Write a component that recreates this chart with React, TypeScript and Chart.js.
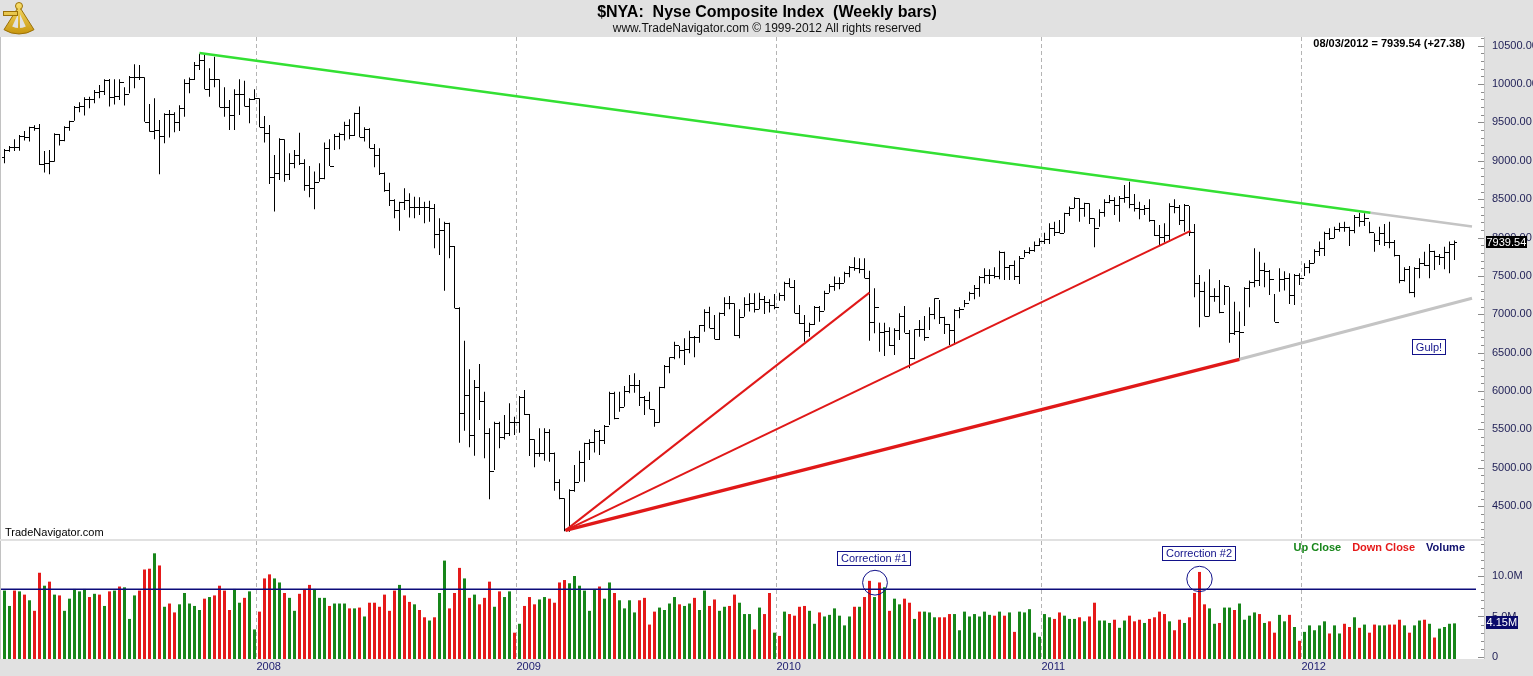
import React, { useEffect, useRef } from 'react';
import { Chart, registerables } from 'chart.js';

Chart.register(...registerables);

const FONT = '"Liberation Sans", Arial, Helvetica, sans-serif';
Chart.defaults.font.family = FONT;

// ---------------- data (weekly bars, Jan 2007 .. 08/03/2012) ----------------
const highs = [
  9154, 9193, 9280, 9337, 9389, 9445, 9463, 9480, 9128, 9141,
  9358, 9350, 9450, 9523, 9714, 9762, 9827, 9836, 9923, 9988,
  10062, 10066, 10062, 10062, 9958, 10105, 10257, 10249, 10088, 9740,
  9814, 9532, 9619, 9662, 9632, 9723, 10062, 10084, 10288, 10395,
  10379, 10205, 10357, 10062, 9958, 9793, 9931, 10062, 10044, 9814,
  9931, 9814, 9584, 9467, 9076, 9293, 9280, 9098, 9141, 9367,
  9019, 8933, 8859, 8967, 9237, 9280, 9350, 9367, 9510, 9541,
  9627, 9706, 9436, 9423, 9219, 9163, 8846, 8715, 8498, 8468,
  8642, 8576, 8533, 8524, 8468, 8481, 8437, 8251, 8207, 8194,
  7890, 7091, 6657, 6283, 6144, 6353, 5992, 5515, 5601, 5601,
  5688, 5840, 5666, 5936, 6014, 5701, 5371, 5514, 5514, 5501,
  5198, 4850, 4602, 4720, 5037, 5223, 5328, 5371, 5501, 5493,
  5558, 5992, 5992, 5992, 6066, 6209, 6231, 6144, 5936, 5992,
  5762, 6057, 6340, 6440, 6644, 6587, 6687, 6787, 6717, 6861,
  7065, 7100, 6991, 7022, 7221, 7239, 7143, 7065, 7221, 7273,
  7273, 7282, 7239, 7195, 7265, 7282, 7425, 7469, 7447, 7121,
  6991, 6891, 7109, 7109, 7308, 7395, 7491, 7482, 7556, 7630,
  7742, 7730, 7730, 7569, 7339, 6891, 6891, 6830, 6817, 7013,
  7109, 6796, 6804, 6926, 6978, 7091, 7208, 7187, 6969, 6874,
  7065, 7091, 7187, 7295, 7382, 7499, 7599, 7586, 7612, 7829,
  7816, 7643, 7700, 7760, 7838, 7873, 7947, 7990, 8064, 8186,
  8207, 8229, 8324, 8403, 8524, 8511, 8455, 8446, 8251, 8368,
  8498, 8555, 8524, 8542, 8685, 8728, 8568, 8468, 8425, 8498,
  8229, 8164, 8186, 8446, 8498, 8425, 8437, 8411, 8177, 7512,
  7425, 7586, 7339, 7447, 7382, 7352, 7165, 7035, 7352, 7439,
  7860, 7816, 7673, 7577, 7265, 7599, 7560, 7534, 7525, 7534,
  7664, 7708, 7847, 7947, 8077, 8120, 8142, 8194, 8207, 8142,
  8294, 8324, 8316, 8207, 8055, 8142, 8177, 8207, 7968, 7773,
  7612, 7630, 7612, 7730, 7816, 7916, 7829, 7786, 7881, 7947,
  7960,
];

const lows = [
  8967, 9119, 9128, 9132, 9263, 9250, 9393, 8946, 8846, 8824,
  8989, 9198, 9254, 9393, 9523, 9632, 9589, 9684, 9749, 9814,
  9858, 9706, 9732, 9793, 9719, 9879, 9945, 10053, 9510, 9380,
  9280, 8824, 9228, 9302, 9371, 9389, 9575, 9879, 10053, 10183,
  9932, 9836, 9958, 9697, 9575, 9402, 9402, 9597, 9706, 9489,
  9793, 9436, 9237, 8698, 8338, 8750, 8728, 8750, 8902, 8946,
  8611, 8524, 8368, 8728, 8759, 8933, 9141, 9150, 9263, 9280,
  9323, 9306, 9250, 9163, 8915, 8815, 8598, 8411, 8251, 8090,
  8359, 8260, 8251, 8294, 8186, 8207, 7860, 7773, 7308, 7730,
  7078, 5328, 5484, 5267, 5158, 5623, 5124, 4590, 4972, 5254,
  5370, 5415, 5428, 5458, 5688, 5154, 5006, 5145, 5093, 5080,
  4702, 4589, 4175, 4168, 4689, 4820, 4820, 5102, 5198, 5167,
  5311, 5558, 5632, 5732, 5797, 5970, 5979, 5806, 5688, 5762,
  5536, 5588, 6036, 6231, 6414, 6427, 6340, 6492, 6440, 6631,
  6774, 6817, 6674, 6665, 6978, 7065, 6717, 6687, 6969, 7035,
  7022, 7065, 7004, 7022, 7065, 7178, 7178, 7352, 7013, 6874,
  6644, 6709, 6861, 6904, 7048, 7282, 7308, 7326, 7412, 7482,
  7569, 7534, 7469, 6657, 6752, 6513, 6457, 6587, 6470, 6666,
  6761, 6296, 6414, 6709, 6657, 6796, 6935, 6874, 6744, 6600,
  6600, 6948, 7091, 7178, 7195, 7230, 7404, 7395, 7469, 7456,
  7447, 7447, 7447, 7395, 7742, 7786, 7816, 7890, 7916, 7916,
  8021, 8055, 8064, 8281, 8381, 8207, 8272, 8177, 7873, 8142,
  8272, 8446, 8294, 8207, 8455, 8381, 8338, 8238, 8294, 8207,
  8021, 7903, 7934, 7947, 8316, 8164, 8077, 8021, 7221, 6830,
  6970, 6970, 7165, 7013, 7121, 6631, 6731, 6410, 6848, 7091,
  7352, 7369, 7352, 7252, 6904, 7295, 7310, 7134, 7122, 7382,
  7499, 7534, 7664, 7760, 7760, 7969, 7990, 8077, 8077, 7890,
  8055, 8142, 8151, 8055, 7816, 7903, 7890, 7860, 7752, 7404,
  7426, 7273, 7221, 7469, 7630, 7469, 7578, 7643, 7586, 7534,
  7708,
];

const opens = [
  9050, 9141, 9185, 9185, 9324, 9315, 9445, 9432, 8959, 8967,
  8994, 9345, 9271, 9445, 9523, 9706, 9714, 9801, 9801, 9901,
  9910, 10053, 9836, 9845, 10031, 9866, 10088, 10088, 10088, 9510,
  9389, 9400, 9324, 9606, 9606, 9502, 9684, 10010, 10062, 10249,
  10314, 9932, 10062, 10062, 9706, 9706, 9597, 9871, 9871, 9714,
  9806, 9823, 9436, 9358, 8794, 8837, 9280, 8828, 8976, 9076,
  8976, 8685, 8642, 8728, 8772, 9163, 8933, 9323, 9350, 9467,
  9337, 9619, 9315, 9410, 9163, 9076, 8837, 8620, 8490, 8359,
  8468, 8490, 8394, 8394, 8403, 8394, 8381, 8042, 8099, 8194,
  7890, 7078, 5710, 5949, 5428, 6057, 5875, 5458, 4963, 5588,
  5406, 5450, 5601, 5601, 5918, 5701, 5371, 5198, 5198, 5471,
  5198, 4820, 4602, 4199, 4711, 4820, 5080, 5319, 5341, 5484,
  5362, 5545, 5979, 5645, 5797, 6005, 6079, 6079, 5927, 5884,
  5762, 5601, 6057, 6327, 6440, 6600, 6535, 6544, 6700, 6700,
  6861, 7035, 6817, 6674, 7022, 7143, 7143, 6730, 6961, 7135,
  7143, 7065, 7195, 7165, 7121, 7091, 7252, 7412, 7352, 7022,
  6883, 6787, 6874, 7100, 7048, 7282, 7369, 7404, 7404, 7543,
  7612, 7599, 7586, 7469, 6904, 7100, 6774, 6787, 6600, 6796,
  6978, 6761, 6427, 6804, 6804, 6709, 7004, 7208, 6969, 6874,
  6796, 7056, 7065, 7152, 7282, 7339, 7491, 7512, 7512, 7499,
  7816, 7621, 7643, 7499, 7730, 7816, 7838, 7903, 7960, 7977,
  8120, 8077, 8060, 8316, 8381, 8511, 8381, 8446, 8251, 8120,
  8338, 8468, 8490, 8425, 8511, 8533, 8437, 8381, 8368, 8381,
  8229, 8034, 8012, 8034, 8411, 8394, 8229, 8425, 8077, 7412,
  7308, 6978, 7239, 7239, 7035, 7369, 6761, 6787, 6774, 7339,
  7425, 7447, 7577, 7569, 7456, 6904, 7456, 7475, 7252, 7512,
  7469, 7621, 7673, 7829, 7860, 8064, 7990, 8107, 8142, 8142,
  8099, 8272, 8221, 8251, 8077, 7968, 8055, 7947, 7947, 7773,
  7447, 7586, 7295, 7599, 7664, 7643, 7829, 7760, 7752, 7816,
  7912,
];

const closes = [
  9141, 9185, 9185, 9324, 9315, 9445, 9432, 8959, 8967, 8994,
  9345, 9271, 9445, 9523, 9706, 9714, 9801, 9801, 9901, 9910,
  10053, 9836, 9845, 10031, 9866, 10088, 10088, 10088, 9510, 9389,
  9400, 9324, 9606, 9606, 9502, 9684, 10010, 10062, 10249, 10314,
  9932, 10062, 10062, 9706, 9706, 9597, 9871, 9871, 9714, 9806,
  9823, 9436, 9358, 8794, 8837, 9280, 8828, 8976, 9076, 8976,
  8685, 8642, 8728, 8772, 9163, 8933, 9323, 9350, 9467, 9337,
  9619, 9315, 9410, 9163, 9076, 8837, 8620, 8490, 8359, 8468,
  8490, 8394, 8394, 8403, 8394, 8381, 8042, 8099, 8194, 7890,
  7078, 5710, 5949, 5428, 6057, 5875, 5458, 4963, 5588, 5406,
  5450, 5601, 5601, 5918, 5701, 5371, 5198, 5198, 5471, 5198,
  4820, 4602, 4199, 4711, 4820, 5080, 5319, 5341, 5484, 5362,
  5545, 5979, 5645, 5797, 6005, 6079, 6079, 5927, 5884, 5762,
  5601, 6057, 6327, 6440, 6600, 6535, 6544, 6700, 6700, 6861,
  7035, 6817, 6674, 7022, 7143, 7143, 6730, 6961, 7135, 7143,
  7065, 7195, 7165, 7121, 7091, 7252, 7412, 7352, 7022, 6883,
  6787, 6874, 7100, 7048, 7282, 7369, 7404, 7404, 7543, 7612,
  7599, 7586, 7469, 6904, 7100, 6774, 6787, 6600, 6796, 6978,
  6761, 6427, 6804, 6804, 6709, 7004, 7208, 6969, 6874, 6796,
  7056, 7065, 7152, 7282, 7339, 7491, 7512, 7512, 7499, 7816,
  7621, 7643, 7499, 7730, 7816, 7838, 7903, 7960, 7977, 8120,
  8077, 8060, 8316, 8381, 8511, 8381, 8446, 8251, 8120, 8338,
  8468, 8490, 8425, 8511, 8533, 8437, 8381, 8368, 8381, 8229,
  8034, 8012, 8034, 8411, 8394, 8229, 8425, 8077, 7412, 7308,
  6978, 7239, 7239, 7035, 7369, 6761, 6787, 6774, 7339, 7425,
  7447, 7577, 7569, 7456, 6904, 7456, 7475, 7252, 7512, 7469,
  7621, 7673, 7829, 7860, 8064, 7990, 8107, 8142, 8142, 8099,
  8272, 8221, 8251, 8077, 7968, 8055, 7947, 7947, 7773, 7447,
  7586, 7295, 7599, 7664, 7643, 7829, 7760, 7752, 7816, 7912.16,
  7939.54,
];

// weekly volume, millions
const volumes = [
  8.2, 6.3, 8.2, 8.1, 7.7, 7.0, 5.7, 10.4, 8.8, 9.3,
  7.7, 7.6, 5.7, 7.2, 8.4, 8.1, 8.4, 7.4, 7.8, 7.7,
  6.3, 8.1, 8.2, 8.7, 8.6, 4.7, 7.6, 8.2, 10.8, 10.9,
  12.8, 11.3, 6.2, 6.6, 5.5, 6.5, 7.9, 6.6, 6.3, 5.8,
  7.2, 7.4, 7.6, 8.8, 8.2, 5.8, 8.4, 6.7, 7.3, 8.1,
  3.4, 5.6, 9.7, 10.2, 9.7, 9.2, 7.9, 7.3, 5.7, 7.8,
  8.4, 8.9, 8.4, 7.3, 7.3, 6.3, 6.6, 6.6, 6.6, 6.0,
  6.0, 6.1, 5.0, 6.7, 6.7, 6.2, 7.7, 5.7, 8.2, 8.9,
  7.6, 6.8, 6.5, 5.8, 4.9, 4.5, 4.9, 7.9, 11.9, 6.0,
  7.9, 11.0, 9.7, 7.3, 7.7, 6.5, 7.3, 9.3, 6.2, 8.1,
  7.4, 8.1, 3.0, 4.1, 6.3, 7.4, 6.5, 7.1, 7.4, 7.2,
  6.7, 9.2, 9.5, 9.1, 10.0, 8.8, 8.2, 5.7, 8.4, 8.7,
  7.2, 9.2, 7.9, 7.0, 6.0, 7.0, 5.5, 7.0, 7.3, 4.0,
  5.6, 6.1, 5.8, 6.6, 7.4, 6.5, 6.3, 6.6, 7.3, 5.8,
  8.2, 6.3, 7.1, 5.7, 6.2, 6.3, 7.7, 6.7, 5.3, 5.3,
  3.4, 6.1, 5.3, 7.9, 3.0, 2.6, 5.6, 5.3, 5.1, 6.2,
  6.3, 5.7, 4.1, 5.5, 5.0, 5.2, 6.0, 5.1, 3.9, 5.0,
  6.2, 6.2, 7.4, 9.4, 7.4, 9.2, 8.6, 5.7, 7.2, 6.5,
  7.2, 6.7, 4.7, 5.6, 5.6, 5.5, 4.9, 4.9, 4.9, 5.3,
  5.3, 3.3, 5.6, 5.0, 5.3, 5.0, 5.6, 5.2, 5.1, 5.6,
  5.1, 5.5, 3.1, 5.6, 5.5, 5.9, 3.0, 2.5, 5.3, 4.9,
  4.7, 5.5, 5.1, 4.7, 4.7, 4.9, 4.4, 5.0, 6.7, 4.5,
  4.5, 4.2, 4.6, 3.6, 4.5, 5.1, 4.4, 4.6, 4.2, 4.7,
  4.9, 5.6, 5.3, 4.4, 3.3, 4.6, 4.2, 4.9, 7.9, 10.5,
  6.5, 6.0, 4.1, 4.2, 6.1, 6.1, 5.8, 6.6, 4.6, 5.1,
  5.5, 5.3, 4.2, 4.4, 3.0, 5.2, 4.4, 5.2, 3.7, 2.0,
  3.1, 3.9, 3.3, 3.9, 4.4, 2.9, 3.9, 2.9, 4.1, 3.7,
  4.9, 3.6, 4.0, 3.0, 4.0, 3.9, 3.9, 4.0, 4.0, 4.6,
  3.9, 3.0, 3.9, 4.5, 4.6, 4.1, 2.4, 3.5, 3.7, 4.1,
  4.15,
];

// G = up close week, R = down close week
const volumeDirections =
  'GGRGRGRRGR' + 'GRGGGGGRGR' + 'GRGRGGGRRR' + 'GRGRRGGGGG' + 'RGRRRRGGRG' +
  'GRRRGGRGGR' + 'RRGGGRGGGR' + 'GRGRRRRRRG' + 'RRGRRGRGGR' + 'RRGRGRRRGR' +
  'GGRGRRRGGR' + 'RRRGGGGGGR' + 'GGRGGGGRRR' + 'RGGGGRGGRG' + 'GRRGGRRGGG' +
  'RGRRGRGRRR' + 'RGGRGGGGGG' + 'RGRRGRGRGG' + 'RRGRGGGRRR' + 'GGGGGGGGRG' +
  'RGRGGGGGGG' + 'RRGGGRGRRG' + 'GGRGGRRRGR' + 'RRRGRRGRRR' + 'RGGRGGRGGG' +
  'GRGRRGGRGR' + 'GGGGGRGGRR' + 'GRGRRGGRRR' + 'GRGGRGRGGGG';

const priceTicks = [4500, 5000, 5500, 6000, 6500, 7000, 7500, 8000, 8500, 9000, 9500, 10000, 10500];
const volumeTicks = [0, 5, 10];
const yearLabels = ['2008', '2009', '2010', '2011', '2012'];
const yearGridIndex = [50.4, 102.4, 154.4, 207.4, 259.4];

// trend lines (week index, price)
const greenTrend = [{ x: 39, y: 10405 }, { x: 273.2, y: 8324 }];
const greenTrendExt = [{ x: 273.2, y: 8324 }, { x: 293.5, y: 8144 }];
const redFan1 = [{ x: 112.2, y: 4185 }, { x: 173, y: 7282 }];
const redFan2 = [{ x: 112.2, y: 4185 }, { x: 237.2, y: 8086 }];
const redFan3 = [{ x: 112.2, y: 4185 }, { x: 247, y: 6414 }];
const grayLower = [{ x: 247, y: 6414 }, { x: 293.5, y: 7209 }];
const volumeAverage = [{ x: -0.7, y: 8.36 }, { x: 294.3, y: 8.36 }];

const gulpNote = { text: 'Gulp!', x: 284.9, y: 6574 };
const corrections = [
  { text: 'Correction #1', bx: 173.9, by: 12.16, cx: 174.1, cy: 9.17, r: 12.4 },
  { text: 'Correction #2', bx: 238.9, by: 12.78, cx: 239.0, cy: 9.63, r: 12.7 },
];
const lastDateText = '08/03/2012 = 7939.54 (+27.38)';

// ---------------- layout / style constants ----------------
const X_MIN = -0.7;
const X_MAX = 296.1;
const P_MIN = 4072.5;
const P_MAX = 10613;
const V_MIN = -0.25;
const V_MAX = 14.32;

const PANEL_BG = '#e1e1e1';
const NAVY = '#12128a';
const AXIS_TEXT = '#1e1e55';
const GRID = '#b4b4b4';
const VOL_GREEN = '#17861a';
const VOL_RED = '#e51a1a';
const TREND_GREEN = '#33e033';
const TREND_RED = '#e01818';
const TREND_GRAY = '#c4c4c4';

function drawNoteBox(ctx: CanvasRenderingContext2D, text: string, cx: number, cy: number, h: number) {
  ctx.font = `11px ${FONT}`;
  const w = Math.round(ctx.measureText(text).width + 8);
  const x0 = Math.round(cx - w / 2);
  const y0 = Math.round(cy - h / 2);
  ctx.fillStyle = '#ffffff';
  ctx.fillRect(x0, y0, w, h);
  ctx.strokeStyle = NAVY;
  ctx.lineWidth = 1;
  ctx.strokeRect(x0 + 0.5, y0 + 0.5, w - 1, h - 1);
  ctx.fillStyle = NAVY;
  ctx.textAlign = 'center';
  ctx.textBaseline = 'middle';
  ctx.fillText(text, x0 + w / 2, y0 + h / 2 + 0.5);
}

function drawPanelBackground(chart: any) {
  const { ctx, chartArea: a, width, height } = chart;
  ctx.save();
  ctx.fillStyle = PANEL_BG;
  ctx.fillRect(0, 0, width, height);
  ctx.fillStyle = '#ffffff';
  ctx.fillRect(a.left, a.top, a.right - a.left, a.bottom - a.top);
  ctx.restore();
}

function drawAxisMarks(chart: any, scale: any, from: number, to: number, step: number, majorEvery: number) {
  const { ctx, chartArea: a } = chart;
  ctx.save();
  ctx.fillStyle = '#c2c2c2';
  ctx.fillRect(a.left - 1, a.top, 1, a.bottom - a.top);
  ctx.fillRect(a.right - 1, a.top, 1, a.bottom - a.top);
  ctx.fillStyle = '#8c8c8c';
  for (let v = from; v <= to + 1e-9; v += step) {
    const y = Math.round(scale.getPixelForValue(v));
    if (y < a.top || y > a.bottom) continue;
    const major = Math.abs(v / majorEvery - Math.round(v / majorEvery)) < 1e-6;
    const len = major ? 6 : 3;
    ctx.fillRect(a.right - 1 - len, y, len, 1);
  }
  ctx.restore();
}

const pricePlugin = {
  id: 'priceDecor',
  beforeDraw(chart: any) {
    drawPanelBackground(chart);
  },
  afterDatasetDraw(chart: any, args: any) {
    if (args.index !== 0) return;
    const { ctx } = chart;
    const xs = chart.scales.x;
    const ys = chart.scales.y;
    ctx.save();
    ctx.fillStyle = '#000000';
    for (let i = 0; i < closes.length; i++) {
      const px = Math.floor(xs.getPixelForValue(i));
      const yo = Math.round(ys.getPixelForValue(opens[i]));
      const yc = Math.round(ys.getPixelForValue(closes[i]));
      ctx.fillRect(px - 2, yo, 2, 1);
      ctx.fillRect(px + 1, yc, 2, 1);
    }
    ctx.restore();
  },
  afterDatasetsDraw(chart: any) {
    const { ctx, chartArea: a } = chart;
    const xs = chart.scales.x;
    const ys = chart.scales.y;
    drawAxisMarks(chart, ys, 4100, 10600, 100, 500);
    ctx.save();
    // header info line
    ctx.font = `bold 11px ${FONT}`;
    ctx.fillStyle = '#000000';
    ctx.textAlign = 'right';
    ctx.textBaseline = 'middle';
    ctx.fillText(lastDateText, a.right - 20, a.top + 6.5);
    // watermark
    ctx.font = `11px ${FONT}`;
    ctx.textAlign = 'left';
    ctx.fillText('TradeNavigator.com', a.left + 4, a.bottom - 6);
    // Gulp! note
    drawNoteBox(ctx, gulpNote.text, xs.getPixelForValue(gulpNote.x), ys.getPixelForValue(gulpNote.y), 16);
    // last value box on axis
    const last = closes[closes.length - 1];
    const yl = Math.round(ys.getPixelForValue(last));
    ctx.font = `11px ${FONT}`;
    const txt = last.toFixed(2);
    const w = Math.ceil(ctx.measureText(txt).width) + 1;
    ctx.fillStyle = '#000000';
    ctx.fillRect(a.right + 1, yl - 6, w, 12);
    ctx.fillStyle = '#ffffff';
    ctx.textAlign = 'left';
    ctx.textBaseline = 'middle';
    ctx.fillText(txt, a.right + 1.5, yl + 0.5);
    ctx.restore();
  },
  afterDraw(chart: any) {
    const { ctx } = chart;
    ctx.save();
    // small golden sextant logo
    const g = ctx.createLinearGradient(0, 4, 0, 34);
    g.addColorStop(0, '#f7dd6a');
    g.addColorStop(1, '#c8960e');
    ctx.fillStyle = g;
    ctx.strokeStyle = '#9a7008';
    ctx.lineWidth = 1;
    ctx.beginPath();
    ctx.moveTo(19, 6);
    ctx.arc(19, 6, 28, Math.PI * 0.32, Math.PI * 0.68);
    ctx.closePath();
    ctx.fill();
    ctx.stroke();
    ctx.fillStyle = '#e1e1e1';
    ctx.beginPath();
    ctx.moveTo(19, 12);
    ctx.arc(19, 12, 16, Math.PI * 0.36, Math.PI * 0.64);
    ctx.closePath();
    ctx.fill();
    ctx.fillStyle = g;
    ctx.fillRect(3, 11, 15, 5);
    ctx.strokeRect(3.5, 11.5, 14, 4);
    ctx.beginPath();
    ctx.arc(19, 6, 3.5, 0, Math.PI * 2);
    ctx.fill();
    ctx.stroke();
    ctx.fillRect(18, 6, 2, 24);
    ctx.restore();
  },
};

const volumePlugin = {
  id: 'volumeDecor',
  beforeDraw(chart: any) {
    drawPanelBackground(chart);
  },
  afterDatasetsDraw(chart: any) {
    const { ctx, chartArea: a } = chart;
    const xs = chart.scales.x;
    const ys = chart.scales.y;
    drawAxisMarks(chart, ys, 0, 14, 1, 5);
    ctx.save();
    // legend
    ctx.font = `bold 11px ${FONT}`;
    ctx.textBaseline = 'middle';
    ctx.textAlign = 'right';
    const ly = a.top + 6.5;
    let rx = a.right - 20;
    const items = [
      { t: 'Volume', c: '#10106e' },
      { t: 'Down Close', c: VOL_RED },
      { t: 'Up Close', c: VOL_GREEN },
    ];
    for (const it of items) {
      ctx.fillStyle = it.c;
      ctx.fillText(it.t, rx, ly);
      rx -= ctx.measureText(it.t).width + 11;
    }
    // correction notes
    for (const c of corrections) {
      ctx.strokeStyle = NAVY;
      ctx.lineWidth = 1;
      ctx.beginPath();
      ctx.arc(xs.getPixelForValue(c.cx), ys.getPixelForValue(c.cy), c.r, 0, Math.PI * 2);
      ctx.stroke();
      drawNoteBox(ctx, c.text, xs.getPixelForValue(c.bx), ys.getPixelForValue(c.by), 15);
    }
    // last volume box on axis
    const last = volumes[volumes.length - 1];
    const yl = Math.round(ys.getPixelForValue(last));
    ctx.font = `11px ${FONT}`;
    const txt = last.toFixed(2) + 'M';
    const w = Math.ceil(ctx.measureText(txt).width) + 1;
    ctx.fillStyle = '#0a0a6a';
    ctx.fillRect(a.right + 1, yl - 7, w, 13);
    ctx.fillStyle = '#ffffff';
    ctx.textAlign = 'left';
    ctx.textBaseline = 'middle';
    ctx.fillText(txt, a.right + 1.5, yl);
    ctx.restore();
  },
};

export default function App() {
  const priceRef = useRef<HTMLCanvasElement | null>(null);
  const volRef = useRef<HTMLCanvasElement | null>(null);

  useEffect(() => {
    document.body.style.margin = '0';
    const idx = closes.map((_, i) => i);

    const lineDs = (data: any[], color: string, width: number) => ({
      type: 'line',
      data,
      borderColor: color,
      borderWidth: width,
      pointRadius: 0,
      tension: 0,
      fill: false,
      order: 1,
    });

    const xScaleBase = {
      type: 'linear',
      min: X_MIN,
      max: X_MAX,
      offset: false,
      afterBuildTicks: (s: any) => {
        s.ticks = yearGridIndex.map((v) => ({ value: v }));
      },
      grid: { color: GRID, lineWidth: 1, drawTicks: false, offset: false },
      border: { display: false, dash: [4, 3] },
    };

    const priceChart = new Chart(priceRef.current as HTMLCanvasElement, {
      type: 'bar',
      data: {
        datasets: [
          {
            type: 'bar',
            data: idx.map((i) => ({ x: i, y: [lows[i], highs[i]] })),
            backgroundColor: '#000000',
            borderWidth: 0,
            barThickness: 1,
            grouped: false,
            inflateAmount: 0,
            order: 10,
          } as any,
          lineDs(greenTrend, TREND_GREEN, 2.5),
          lineDs(greenTrendExt, TREND_GRAY, 2.5),
          lineDs(grayLower, TREND_GRAY, 3),
          lineDs(redFan1, TREND_RED, 2),
          lineDs(redFan2, TREND_RED, 2),
          lineDs(redFan3, TREND_RED, 3.4),
        ] as any,
      },
      options: {
        animation: false,
        responsive: false,
        events: [],
        layout: { padding: { left: 1, right: 0, top: 0, bottom: 2 } },
        plugins: {
          legend: { display: false },
          tooltip: { enabled: false },
          title: {
            display: true,
            text: '$NYA:  Nyse Composite Index  (Weekly bars)',
            color: '#000000',
            font: { family: FONT, size: 16, weight: 'bold', lineHeight: 1.2 },
            padding: { top: 3, bottom: 0 },
          },
          subtitle: {
            display: true,
            text: 'www.TradeNavigator.com \u00A9 1999-2012 All rights reserved',
            color: '#111111',
            font: { family: FONT, size: 12, lineHeight: 1.05 },
            padding: { top: 0, bottom: 2.2 },
          },
        },
        scales: {
          x: {
            ...xScaleBase,
            position: 'bottom',
            ticks: { display: false },
            afterFit: (s: any) => {
              s.height = 0;
              s.paddingLeft = 0;
              s.paddingRight = 0;
            },
          },
          y: {
            type: 'linear',
            position: 'right',
            min: P_MIN,
            max: P_MAX,
            afterBuildTicks: (s: any) => {
              s.ticks = priceTicks.map((v) => ({ value: v }));
            },
            ticks: {
              callback: (v: any) => Number(v).toFixed(2),
              color: AXIS_TEXT,
              font: { family: FONT, size: 11 },
              padding: 7,
              autoSkip: false,
            },
            grid: { display: false, drawTicks: false },
            border: { display: false },
            afterFit: (s: any) => {
              s.width = 48;
              s.paddingTop = 0;
              s.paddingBottom = 0;
            },
          },
        } as any,
      } as any,
      plugins: [pricePlugin as any],
    } as any);

    const volChart = new Chart(volRef.current as HTMLCanvasElement, {
      type: 'bar',
      data: {
        datasets: [
          {
            type: 'bar',
            data: idx.map((i) => ({ x: i, y: [V_MIN, volumes[i]] })),
            backgroundColor: idx.map((i) => (volumeDirections[i] === 'G' ? VOL_GREEN : VOL_RED)),
            borderWidth: 0,
            barThickness: 3,
            grouped: false,
            inflateAmount: 0,
            order: 10,
          } as any,
          {
            type: 'line',
            data: volumeAverage,
            borderColor: '#0c0c7a',
            borderWidth: 1.5,
            pointRadius: 0,
            tension: 0,
            fill: false,
            order: 1,
          } as any,
        ] as any,
      },
      options: {
        animation: false,
        responsive: false,
        events: [],
        layout: { padding: { left: 1, right: 0, top: 0, bottom: 0 } },
        plugins: {
          legend: { display: false },
          tooltip: { enabled: false },
        },
        scales: {
          x: {
            ...xScaleBase,
            position: 'bottom',
            ticks: {
              display: true,
              align: 'start',
              color: '#1c1c70',
              font: { family: FONT, size: 11 },
              padding: 1,
              maxRotation: 0,
              autoSkip: false,
              callback: (_v: any, i: number) => yearLabels[i],
            },
            afterFit: (s: any) => {
              s.height = 17;
              s.paddingLeft = 0;
              s.paddingRight = 0;
            },
          },
          y: {
            type: 'linear',
            position: 'right',
            min: V_MIN,
            max: V_MAX,
            afterBuildTicks: (s: any) => {
              s.ticks = volumeTicks.map((v) => ({ value: v }));
            },
            ticks: {
              callback: (v: any) => (Number(v) === 0 ? '0' : Number(v).toFixed(1) + 'M'),
              color: AXIS_TEXT,
              font: { family: FONT, size: 11 },
              padding: 7,
              autoSkip: false,
            },
            grid: { display: false, drawTicks: false },
            border: { display: false },
            afterFit: (s: any) => {
              s.width = 48;
              s.paddingTop = 0;
              s.paddingBottom = 0;
            },
          },
        } as any,
      } as any,
      plugins: [volumePlugin as any],
    } as any);

    return () => {
      priceChart.destroy();
      volChart.destroy();
    };
  }, []);

  return (
    <div
      style={{
        position: 'fixed',
        left: 0,
        top: 0,
        width: 1533,
        height: 676,
        background: PANEL_BG,
        overflow: 'hidden',
      }}
    >
      <canvas
        ref={priceRef}
        width={1533}
        height={541}
        style={{ position: 'absolute', left: 0, top: 0, display: 'block' }}
      />
      <canvas
        ref={volRef}
        width={1533}
        height={135}
        style={{ position: 'absolute', left: 0, top: 541, display: 'block' }}
      />
    </div>
  );
}
